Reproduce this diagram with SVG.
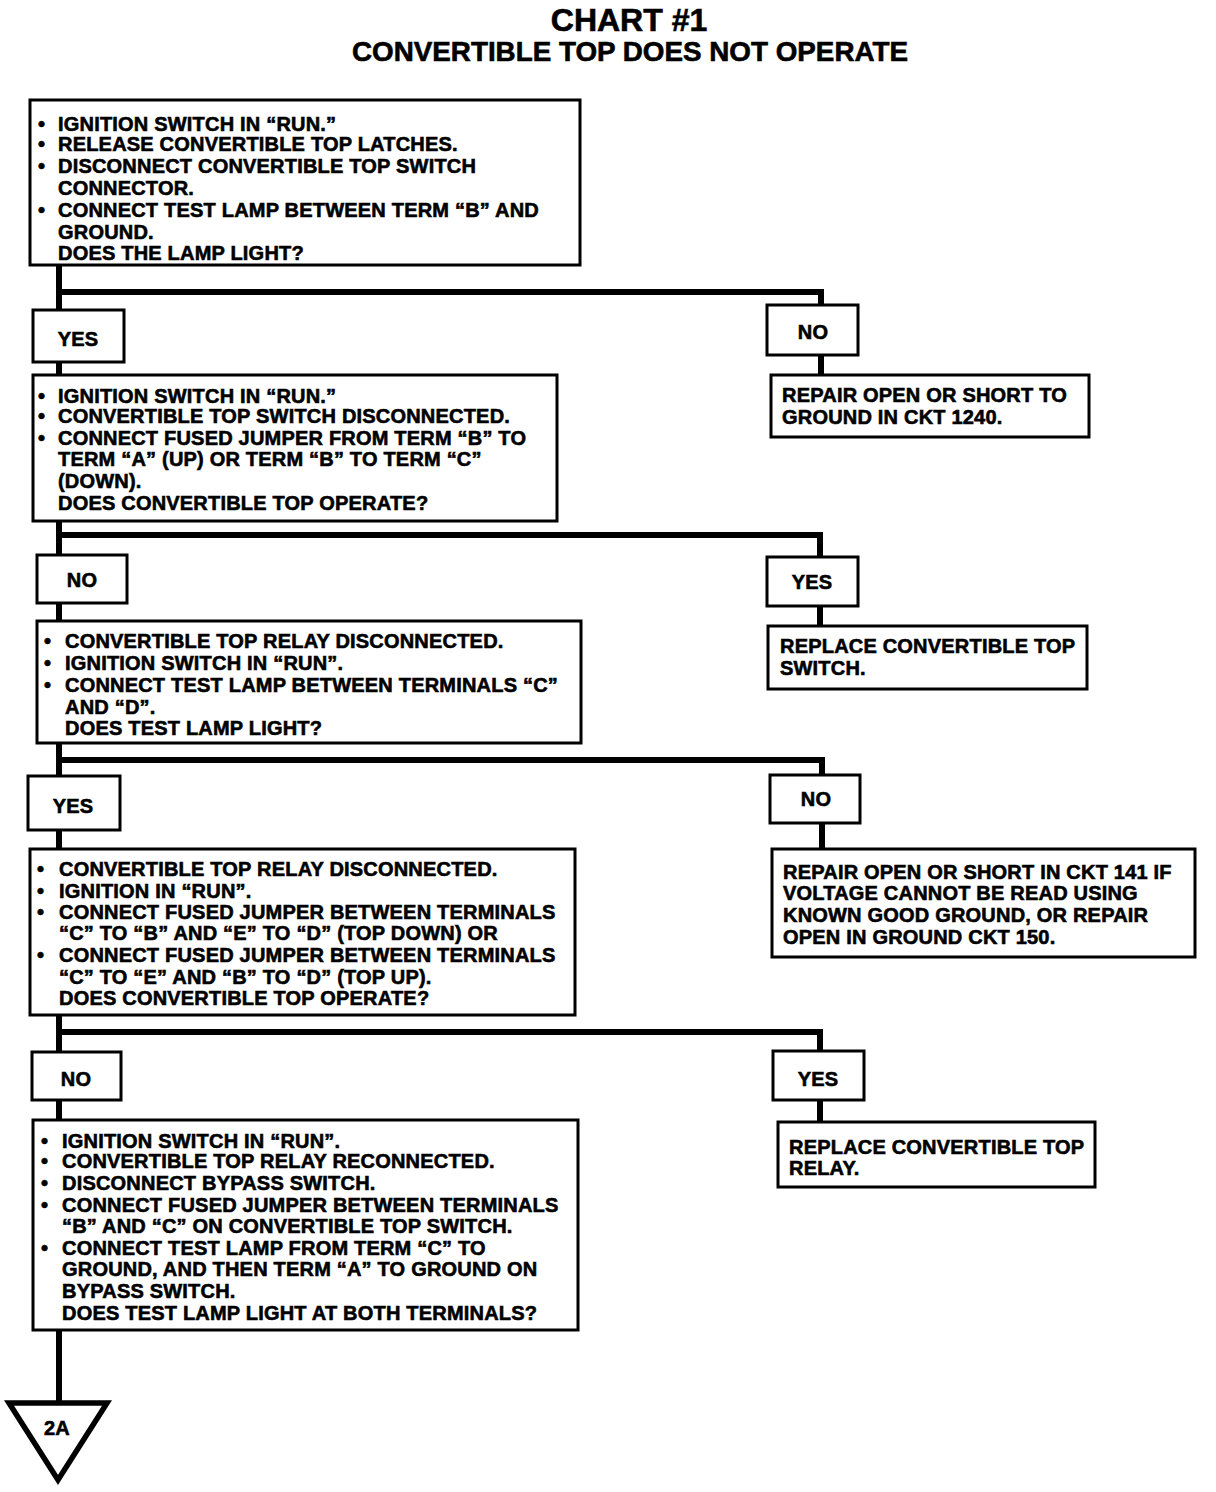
<svg xmlns="http://www.w3.org/2000/svg" width="1216" height="1492" viewBox="0 0 1216 1492">
<style>
.bx{fill:#fff;stroke:#000;stroke-width:3}
.cn{fill:none;stroke:#000;stroke-width:6;stroke-linejoin:miter;stroke-linecap:square}
.t{font-family:"Liberation Sans",Arial,sans-serif;font-weight:bold;font-size:20px;letter-spacing:0.2px;fill:#000;stroke:#000;stroke-width:0.6}
.ti{font-family:"Liberation Sans",Arial,sans-serif;font-weight:bold;fill:#000;stroke:#000;stroke-width:0.6;text-anchor:middle}
.c{text-anchor:middle}
</style>
<rect width="1216" height="1492" fill="#fff"/>
<g id="title">
<text class="ti" x="629" y="31" font-size="32">CHART #1</text>
<text class="ti" x="630" y="61" font-size="27.8">CONVERTIBLE TOP DOES NOT OPERATE</text>
</g>
<g id="connectors">
<path class="cn" d="M59 265 V1400"/>
<path class="cn" d="M59 292 H821 V305"/>
<path class="cn" d="M821 355 V375"/>
<path class="cn" d="M59 535 H820 V557"/>
<path class="cn" d="M820 606 V626"/>
<path class="cn" d="M59 760 H822 V775"/>
<path class="cn" d="M822 823 V849"/>
<path class="cn" d="M59 1032 H820 V1051"/>
<path class="cn" d="M820 1100 V1122"/>
</g>
<g id="n1">
<rect class="bx" x="30" y="100" width="550" height="165"/>
<text class="t"><tspan x="38" y="131">•</tspan><tspan x="58" y="131">IGNITION SWITCH IN “RUN.”</tspan>
<tspan x="38" y="151">•</tspan><tspan x="58" y="151">RELEASE CONVERTIBLE TOP LATCHES.</tspan>
<tspan x="38" y="173">•</tspan><tspan x="58" y="173">DISCONNECT CONVERTIBLE TOP SWITCH</tspan>
<tspan x="58" y="195">CONNECTOR.</tspan>
<tspan x="38" y="217">•</tspan><tspan x="58" y="217">CONNECT TEST LAMP BETWEEN TERM “B” AND</tspan>
<tspan x="58" y="239">GROUND.</tspan>
<tspan x="58" y="260">DOES THE LAMP LIGHT?</tspan></text>
</g>
<g id="yes1">
<rect class="bx" x="33" y="310" width="91" height="52"/>
<text class="t c" x="78" y="346">YES</text>
</g>
<g id="no1">
<rect class="bx" x="767" y="305" width="91" height="50"/>
<text class="t c" x="813" y="339">NO</text>
</g>
<g id="r1">
<rect class="bx" x="771" y="375" width="318" height="62"/>
<text class="t"><tspan x="782" y="402">REPAIR OPEN OR SHORT TO</tspan>
<tspan x="782" y="424">GROUND IN CKT 1240.</tspan></text>
</g>
<g id="n2">
<rect class="bx" x="33" y="375" width="524" height="146"/>
<text class="t"><tspan x="38" y="403">•</tspan><tspan x="58" y="403">IGNITION SWITCH IN “RUN.”</tspan>
<tspan x="38" y="423">•</tspan><tspan x="58" y="423">CONVERTIBLE TOP SWITCH DISCONNECTED.</tspan>
<tspan x="38" y="445">•</tspan><tspan x="58" y="445">CONNECT FUSED JUMPER FROM TERM “B” TO</tspan>
<tspan x="58" y="466">TERM “A” (UP) OR TERM “B” TO TERM “C”</tspan>
<tspan x="58" y="488">(DOWN).</tspan>
<tspan x="58" y="510">DOES CONVERTIBLE TOP OPERATE?</tspan></text>
</g>
<g id="no2">
<rect class="bx" x="37" y="555" width="90" height="48"/>
<text class="t c" x="82" y="587">NO</text>
</g>
<g id="yes2">
<rect class="bx" x="767" y="557" width="91" height="49"/>
<text class="t c" x="812" y="589">YES</text>
</g>
<g id="r2">
<rect class="bx" x="768" y="626" width="319" height="63"/>
<text class="t"><tspan x="780" y="653">REPLACE CONVERTIBLE TOP</tspan>
<tspan x="780" y="675">SWITCH.</tspan></text>
</g>
<g id="n3">
<rect class="bx" x="37" y="621" width="544" height="122"/>
<text class="t"><tspan x="44" y="648">•</tspan><tspan x="65" y="648">CONVERTIBLE TOP RELAY DISCONNECTED.</tspan>
<tspan x="44" y="670">•</tspan><tspan x="65" y="670">IGNITION SWITCH IN “RUN”.</tspan>
<tspan x="44" y="692">•</tspan><tspan x="65" y="692">CONNECT TEST LAMP BETWEEN TERMINALS “C”</tspan>
<tspan x="65" y="714">AND “D”.</tspan>
<tspan x="65" y="735">DOES TEST LAMP LIGHT?</tspan></text>
</g>
<g id="yes3">
<rect class="bx" x="28" y="776" width="92" height="54"/>
<text class="t c" x="73" y="813">YES</text>
</g>
<g id="no3">
<rect class="bx" x="770" y="775" width="90" height="48"/>
<text class="t c" x="816" y="806">NO</text>
</g>
<g id="r3">
<rect class="bx" x="772" y="849" width="423" height="108"/>
<text class="t"><tspan x="783" y="879">REPAIR OPEN OR SHORT IN CKT 141 IF</tspan>
<tspan x="783" y="900">VOLTAGE CANNOT BE READ USING</tspan>
<tspan x="783" y="922">KNOWN GOOD GROUND, OR REPAIR</tspan>
<tspan x="783" y="944">OPEN IN GROUND CKT 150.</tspan></text>
</g>
<g id="n4">
<rect class="bx" x="30" y="849" width="545" height="166"/>
<text class="t"><tspan x="37" y="876">•</tspan><tspan x="59" y="876">CONVERTIBLE TOP RELAY DISCONNECTED.</tspan>
<tspan x="37" y="898">•</tspan><tspan x="59" y="898">IGNITION IN “RUN”.</tspan>
<tspan x="37" y="919">•</tspan><tspan x="59" y="919">CONNECT FUSED JUMPER BETWEEN TERMINALS</tspan>
<tspan x="59" y="940">“C” TO “B” AND “E” TO “D” (TOP DOWN) OR</tspan>
<tspan x="37" y="962">•</tspan><tspan x="59" y="962">CONNECT FUSED JUMPER BETWEEN TERMINALS</tspan>
<tspan x="59" y="984">“C” TO “E” AND “B” TO “D” (TOP UP).</tspan>
<tspan x="59" y="1005">DOES CONVERTIBLE TOP OPERATE?</tspan></text>
</g>
<g id="no4">
<rect class="bx" x="32" y="1052" width="89" height="48"/>
<text class="t c" x="76" y="1086">NO</text>
</g>
<g id="yes4">
<rect class="bx" x="773" y="1051" width="91" height="49"/>
<text class="t c" x="818" y="1086">YES</text>
</g>
<g id="r4">
<rect class="bx" x="778" y="1122" width="317" height="65"/>
<text class="t"><tspan x="789" y="1154">REPLACE CONVERTIBLE TOP</tspan>
<tspan x="789" y="1175">RELAY.</tspan></text>
</g>
<g id="n5">
<rect class="bx" x="33" y="1120" width="545" height="210"/>
<text class="t"><tspan x="41" y="1148">•</tspan><tspan x="62" y="1148">IGNITION SWITCH IN “RUN”.</tspan>
<tspan x="41" y="1168">•</tspan><tspan x="62" y="1168">CONVERTIBLE TOP RELAY RECONNECTED.</tspan>
<tspan x="41" y="1190">•</tspan><tspan x="62" y="1190">DISCONNECT BYPASS SWITCH.</tspan>
<tspan x="41" y="1212">•</tspan><tspan x="62" y="1212">CONNECT FUSED JUMPER BETWEEN TERMINALS</tspan>
<tspan x="62" y="1233">“B” AND “C” ON CONVERTIBLE TOP SWITCH.</tspan>
<tspan x="41" y="1255">•</tspan><tspan x="62" y="1255">CONNECT TEST LAMP FROM TERM “C” TO</tspan>
<tspan x="62" y="1276">GROUND, AND THEN TERM “A” TO GROUND ON</tspan>
<tspan x="62" y="1298">BYPASS SWITCH.</tspan>
<tspan x="62" y="1320">DOES TEST LAMP LIGHT AT BOTH TERMINALS?</tspan></text>
</g>
<g id="n2A">
<polygon points="9,1403 107,1403 58,1480" fill="#fff" stroke="#000" stroke-width="5.5" stroke-linejoin="miter"/>
<text class="t c" x="57" y="1435" font-size="17">2A</text>
</g>
</svg>
